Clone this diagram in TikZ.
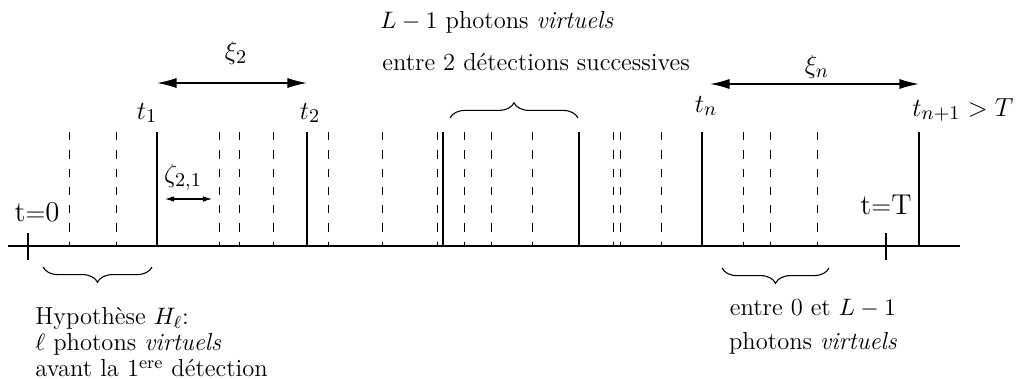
\documentclass[tikz,border=0pt]{standalone}
\usetikzlibrary{arrows.meta,decorations.pathreplacing}
\begin{document}
\begin{tikzpicture}[x=0.46pt,y=-0.46pt,
  lbl/.style={inner sep=0pt,font=\fontsize{11.3}{12}\selectfont},
  mlbl/.style={inner sep=0pt,font=\fontsize{12.5}{14}\selectfont},
  tlbl/.style={inner sep=0pt,font=\fontsize{13.2}{15}\selectfont},
  detline/.style={line width=1pt},
  virtline/.style={line width=0.45pt,dash pattern=on 3.8pt off 4.6pt},
  axisline/.style={line width=0.5pt},
  bigarrow/.style={line width=0.6pt,{Latex[length=9pt,width=4.6pt]}-{Latex[length=9pt,width=4.6pt]}},
  smallarrow/.style={line width=0.5pt,{Latex[length=4.2pt,width=2.6pt]}-{Latex[length=4.2pt,width=2.6pt]}},
  bracestyle/.style={line width=0.5pt,decorate,decoration={brace,amplitude=7pt}}]
\useasboundingbox (0,0) rectangle (1021,379);

% axis
\coordinate (a0) at (8,246);
\coordinate (a1) at (960,246);
\draw[axisline] (a0) -- (a1);

% ticks t=0 and t=T
\coordinate (k0a) at (28,233); \coordinate (k0b) at (28,260);
\coordinate (kTa) at (886,233); \coordinate (kTb) at (886,260);
\draw[axisline] (k0a) -- (k0b);
\draw[axisline] (kTa) -- (kTb);

% detections (solid)
\foreach \x/\n in {157/d1,307/d2,443/d3,579/d4,702/dn,919/dnn}{
  \coordinate (\n top) at (\x,132);
  \coordinate (\n bot) at (\x,246);
  \draw[detline] (\n top) -- (\n bot);
}
% virtual photons (dashed)
\foreach \x [count=\i] in {69,116,219,239,273,328,382,437,464,491,532,613,620,661,743,770,817}{
  \coordinate (v\i top) at (\x,132);
  \coordinate (v\i bot) at (\x,246);
  \draw[virtline] (v\i top) -- (v\i bot);
}

% labels of detections
\node[mlbl] (t1) at (147,113) {$t_1$};
\node[mlbl] (t2) at (310,113) {$t_2$};
\node[mlbl] (tn) at (706,106) {$t_n$};
\node[mlbl,anchor=west] (tnn) at (912,110) {$t_{n+1}>T$};
\node[tlbl] (tz) at (37,212) {t$=$0};
\node[tlbl] (tT) at (886,205) {t$=$T};

% xi arrows
\coordinate (x2a) at (157,83); \coordinate (x2b) at (307,83);
\draw[bigarrow] (x2a) -- (x2b);
\node[mlbl] (xi2) at (236,53) {$\xi_2$};
\coordinate (xna) at (710,84); \coordinate (xnb) at (919,84);
\draw[bigarrow] (xna) -- (xnb);
\node[mlbl] (xin) at (817,67) {$\xi_n$};

% zeta arrow
\coordinate (za) at (165,199); \coordinate (zb) at (212,199);
\draw[smallarrow] (za) -- (zb);
\node[mlbl] (zeta) at (183,177) {$\zeta_{2,1}$};

% top brace
\coordinate (b1a) at (450,118); \coordinate (b1b) at (578,118);
\draw[bracestyle] (b1a) -- (b1b);
\node[lbl,anchor=west] (top1) at (380,22) {$L-1$ photons \textit{virtuels}};
\node[lbl,anchor=west] (top2) at (382,62) {entre 2 détections successives};

% bottom left brace
\coordinate (b2a) at (152,267); \coordinate (b2b) at (43,267);
\draw[bracestyle] (b2a) -- (b2b);
\node[lbl,anchor=north west,align=left] (hyp) at (35,307)
  {Hypothèse $H_\ell$:\\ $\ell$ photons \textit{virtuels}\\ avant la 1\textsuperscript{ere} détection};

% bottom right brace
\coordinate (b3a) at (829,268); \coordinate (b3b) at (722,268);
\draw[bracestyle] (b3a) -- (b3b);
\node[lbl] (bot1) at (813,308) {entre 0 et $L-1$};
\node[lbl] (bot2) at (813,343) {photons \textit{virtuels}};
\end{tikzpicture}
\end{document}
